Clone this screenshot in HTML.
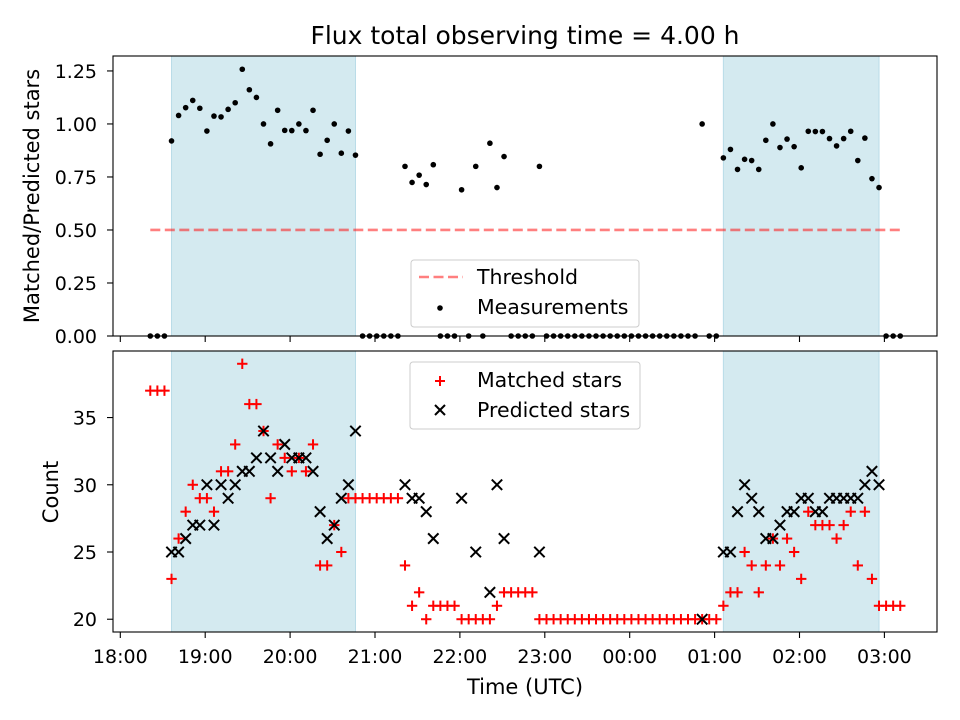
<!DOCTYPE html>
<html><head><meta charset="utf-8"><style>
body{margin:0;background:#fff;}
svg{display:block;font-family:"DejaVu Sans","Liberation Sans",sans-serif;}
</style></head><body>
<svg id="fig" width="960" height="720" viewBox="0 0 960 720"></svg>
<script>
const startMin = 21.2;
const stepMin = 5;
const matched = [37,37,37,23,26,28,30,29,29,28,31,31,33,39,36,36,34,29,33,32,31,32,31,33,24,24,27,25,29,29,
29,29,29,29,29,29,24,21,22,20,21,21,21,21,20,20,20,20,20,21,22,22,22,22,22,20,
20,20,20,20,20,20,20,20,20,20,20,20,20,20,20,20,20,20,20,20,20,20,20,20,20,
21,22,22,25,24,22,24,26,24,26,25,23,28,27,27,27,26,27,28,24,28,23,21,21,21,21];
const predicted = [null,null,null,25,25,26,27,27,30,27,30,29,30,31,31,32,34,32,31,33,32,32,32,31,28,26,27,29,30,34,
null,null,null,null,null,null,30,29,29,28,26,null,null,null,29,null,25,null,22,30,26,null,null,null,null,25,
null,null,null,null,null,null,null,null,null,null,null,null,null,null,null,null,null,null,null,null,null,null,20,null,null,
25,25,28,30,29,28,26,26,27,28,28,29,29,28,28,29,29,29,29,29,30,31,30,null,null,null];
const spanStartIdx = [3,81];
const spanEndIdx = [29,103];
const threshold = 0.5;
const yTicksTop = [0,0.25,0.5,0.75,1.0,1.25];
const yTicksBot = [20,25,30,35];
const xTickHours = [0,1,2,3,4,5,6,7,8,9];
const xTickLabels = ["18:00","19:00","20:00","21:00","22:00","23:00","00:00","01:00","02:00","03:00"];

const NS="http://www.w3.org/2000/svg";
const svg=document.getElementById('fig');
function mk(tag,attrs,parent){const e=document.createElementNS(NS,tag);for(const k in attrs)e.setAttribute(k,attrs[k]);(parent||svg).appendChild(e);return e;}

const L=113,R=937;
const T1=56,B1=336,T2=351,B2=632;
const TICKFS=19;
function xs(min){return 120.3+min*1.415;}
function tOf(i){return startMin+i*stepMin;}
function yTop(v){return B1-(v/1.3205)*(B1-T1);}
const bMin=19.05,bMax=39.95;
function yBot(v){return B2-(v-bMin)/(bMax-bMin)*(B2-T2);}
const ratio = matched.map((m,i)=>predicted[i]?m/predicted[i]:0);

mk('rect',{x:0,y:0,width:960,height:720,fill:'#fff'});

[[T1,B1],[T2,B2]].forEach(([t,b],pi)=>{
  spanStartIdx.forEach((s,j)=>{
    const x0=xs(tOf(s)),x1=xs(tOf(spanEndIdx[j]));
    const r=mk('rect',{x:x0,y:t,width:x1-x0,height:b-t,fill:'#d4eaf0',stroke:'#b9dce8','stroke-width':1});
    
    
  });
});

const th=mk('line',{x1:xs(tOf(0)),x2:xs(tOf(matched.length-1)),y1:yTop(threshold),y2:yTop(threshold),stroke:'rgba(255,0,0,0.5)','stroke-width':2.6,'stroke-dasharray':'10 4.5'});



ratio.forEach((v,i)=>{
  const c=mk('circle',{cx:xs(tOf(i)),cy:yTop(v),r:2.8,fill:'#000'});
  
  
});

function plus(x,y,s,w,col,p){const g=mk('g',{stroke:col,'stroke-width':w},p);mk('line',{x1:x-s,x2:x+s,y1:y,y2:y},g);mk('line',{x1:x,x2:x,y1:y-s,y2:y+s},g);return g;}
function cross(x,y,s,w,col,p){const g=mk('g',{stroke:col,'stroke-width':w},p);mk('line',{x1:x-s,x2:x+s,y1:y-s,y2:y+s},g);mk('line',{x1:x-s,x2:x+s,y1:y+s,y2:y-s},g);return g;}
matched.forEach((v,i)=>{
  const g=plus(xs(tOf(i)),yBot(v),5.2,2,'#ff0000');
  
  
});
predicted.forEach((v,i)=>{
  if(v==null)return;
  const g=cross(xs(tOf(i)),yBot(v),5.2,2,'#000');
  
  
});

[[T1,B1,'top'],[T2,B2,'bottom']].forEach(([t,b,n])=>{
  const r=mk('rect',{x:L,y:t,width:R-L,height:b-t,fill:'none',stroke:'#000','stroke-width':1.1});
  
  
  xTickHours.forEach((h,j)=>{
    const x=xs(h*60);
    mk('line',{x1:x,x2:x,y1:b,y2:b+6,stroke:'#000','stroke-width':1.1});
    if(n==='bottom'){
      const tx=mk('text',{x:x,y:b+31,'font-size':TICKFS,'text-anchor':'middle'});
      tx.textContent=xTickLabels[j];
      
      
    }
  });
});
yTicksTop.forEach(v=>{
  const y=yTop(v);
  mk('line',{x1:L-6,x2:L,y1:y,y2:y,stroke:'#000','stroke-width':1.1});
  const tx=mk('text',{x:L-16,y:y+7,'font-size':TICKFS,'text-anchor':'end'});
  tx.textContent=v.toFixed(2);
  
  
});
yTicksBot.forEach(v=>{
  const y=yBot(v);
  mk('line',{x1:L-6,x2:L,y1:y,y2:y,stroke:'#000','stroke-width':1.1});
  const tx=mk('text',{x:L-16,y:y+7,'font-size':TICKFS,'text-anchor':'end'});
  tx.textContent=String(v);
  
  
});
</script>
<svg width="960" height="720" style="position:absolute;left:0;top:0;">
  <text x="525" y="44" font-size="25" text-anchor="middle">Flux total observing time = 4.00 h</text>
  <text transform="translate(39,196) rotate(-90)" font-size="21" text-anchor="middle">Matched/Predicted stars</text>
  <text transform="translate(58,492) rotate(-90)" font-size="21" text-anchor="middle">Count</text>
  <text x="525" y="694" font-size="21" text-anchor="middle">Time (UTC)</text>
  <g>
    <rect x="411" y="260" width="228" height="67" rx="3" fill="rgba(255,255,255,0.8)" stroke="#ccc" stroke-width="1"/>
    <line x1="419" x2="463" y1="277" y2="277" stroke="rgba(255,0,0,0.5)" stroke-width="2.6" stroke-dasharray="10 4.5"/>
    <text x="477" y="284" font-size="20.5">Threshold</text>
    <circle cx="440" cy="308" r="2.8" fill="#000"/>
    <text x="477" y="314" font-size="20.5">Measurements</text>
  </g>
  <g>
    <rect x="410" y="362" width="230" height="67" rx="3" fill="rgba(255,255,255,0.8)" stroke="#ccc" stroke-width="1"/>
    <g stroke="#f00" stroke-width="2"><line x1="435" x2="445" y1="381" y2="381"/><line x1="440" x2="440" y1="376" y2="386"/></g>
    <text x="477" y="387" font-size="20.5">Matched stars</text>
    <g stroke="#000" stroke-width="2"><line x1="435" x2="445" y1="405" y2="415"/><line x1="435" x2="445" y1="415" y2="405"/></g>
    <text x="477" y="417" font-size="20.5">Predicted stars</text>
  </g>
</svg>
</body></html>
